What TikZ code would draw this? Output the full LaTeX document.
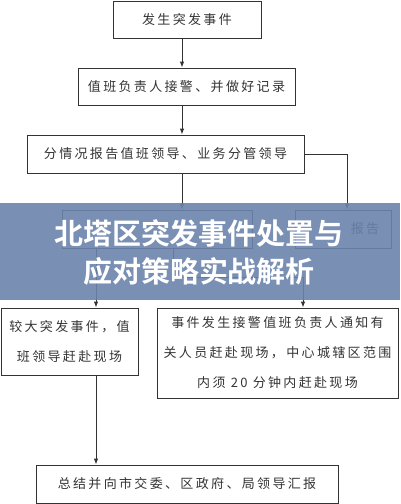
\documentclass[tikz,border=0pt]{standalone}
\usepackage{fontspec}
\usepackage{tikz}
\usetikzlibrary{ arrows.meta, % For the small filled tips
                 positioning,
               }
\newfontfamily\boxfont[LetterSpace=18]{Noto Sans CJK SC}
\newfontfamily\titlefont{Noto Sans CJK SC Bold}
\definecolor{ink}{HTML}{333333}
\definecolor{banner}{HTML}{6A83AB}
\tikzstyle{box} = [rectangle, draw=ink, line width=0.9pt, inner sep=0pt, text=ink,
                   align=center, font=\boxfont\fontsize{13}{30}\selectfont]
\tikzstyle{link} = [-{Latex[length=6pt,width=4.5pt]}, draw=ink, line width=0.9pt]

\begin{document}
\begin{tikzpicture}[x=1pt, y=-1pt]
  \useasboundingbox (0,0) rectangle (400,504);

  % helper columns for the connectors
  \coordinate (spine) at (182,0);
  \coordinate (side) at (347,0);
  \coordinate (col) at (96,0);
  \coordinate (fork) at (173,277);
  \coordinate (branch) at (303,0);

  \node (event) [box, minimum width=148, minimum height=37] at (187,19.5) {发生突发事件};
  \node (duty) [box, minimum width=217, minimum height=37] at (186.5,86.5) {值班负责人接警、并做好记录};
  \node (lead) [box, minimum width=277, minimum height=38] at (165.5,154) {分情况报告值班领导、业务分管领导};
  \node (mid) [box, minimum width=190, minimum height=38] at (157,229) {};
  \node (rep) [box, minimum width=96, minimum height=38] at (343,229) {};
  \node at (365,229) [text=ink, font=\boxfont\fontsize{13}{14}\selectfont] {报告};
  \node (big) [box, minimum width=137, minimum height=67] at (69.5,341.5) {较大突发事件，值\\班领导赶赴现场};
  \node (notify) [box, minimum width=241, minimum height=90] at (277.5,353)
    {事件发生接警值班负责人通知有\\关人员赶赴现场，中心城辖区范围\\内须 20 分钟内赶赴现场};
  \node (sum) [box, minimum width=302, minimum height=38] at (187,484) {总结并向市交委、区政府、局领导汇报};

  \draw [link] (event.south -| spine) -- (duty.north -| spine);
  \draw [link] (duty.south -| spine) -- (lead.north -| spine);
  \draw [link] (lead.south -| spine) -- (mid.north -| spine);
  \draw [link] (lead.east) -| (rep.north -| side);
  \draw [link] (mid.south -| col) -- (big.north -| col);
  \draw [link] (mid.south -| fork) -- (fork) -| (notify.north -| branch);
  \draw [link] (big.south -| col) -- (sum.north -| col);

  % title banner over the middle
  \fill [banner, fill opacity=0.9] (0,203) rectangle (400,300);
  \node (title) at (199,253) [text=white, align=center,
    font=\titlefont\fontsize{29}{38}\selectfont] {北塔区突发事件处置与\\应对策略实战解析};
\end{tikzpicture}
\end{document}
